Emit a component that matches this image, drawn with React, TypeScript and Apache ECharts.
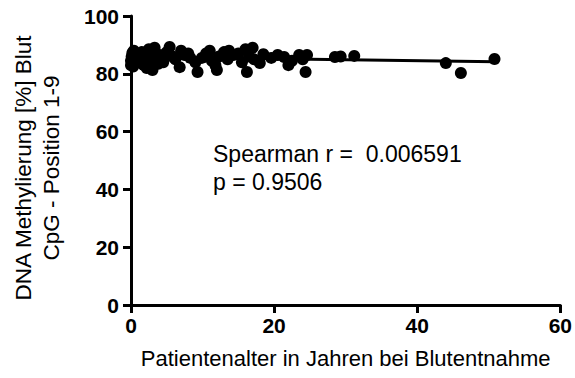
import React, { useEffect, useRef } from "react";
import * as echarts from "echarts";

const points: [number, number][] = [
  [0, 83], [0, 84.5], [0.1, 86], [0.2, 87.3], [0.3, 82.5], [0.5, 85.3], [0.4, 88],
  [0.8, 86.5], [1, 84], [1.2, 85.5],
  [1.5, 87.5], [1.8, 83], [2, 86], [2.2, 82], [2.5, 88.5], [2.7, 84.5], [3, 81.3], [3, 87], [3.3, 89], [3.5, 85], [3.8, 83.5], [4, 86.5],
  [4.5, 84], [5, 87.5], [5.4, 89.3], [5.8, 86], [6.2, 85], [6.8, 82.3], [7, 88], [7.5, 86.5], [8, 87], [8.3, 85.5],
  [9, 84], [9.3, 80.6], [9.9, 85.5], [10.5, 87], [11, 88], [11.3, 84.5], [11.8, 83], [12, 81.3], [12.3, 86],
  [13, 87.5], [13.5, 85], [13.7, 88], [14.3, 86.5], [15, 87], [15.5, 84], [16, 88.5], [16.2, 80.6], [16.5, 86], [17, 89], [17.2, 85],
  [18, 83.7], [18.5, 86.8], [19.6, 85.5], [20.5, 86.5], [21.4, 85.8], [22, 83], [22.5, 84.5], [23.5, 86.5], [24, 85], [24.4, 80.6], [24.6, 86.5],
  [28.5, 85.8], [29.3, 86], [31.2, 86.2], [44, 83.7], [46.1, 80.3], [50.8, 85.1],
];

const regressionLine: [number, number][] = [[0, 85.8], [51, 84.2]];

const xTicks = { min: 0, max: 60, interval: 20 };
const yTicks = { min: 0, max: 100, interval: 20 };

const xTitle = "Patientenalter in Jahren bei Blutentnahme";
const yTitleLines = ["DNA Methylierung [%] Blut", "CpG - Position 1-9"];
const annotationLines = ["Spearman r =  0.006591", "p = 0.9506"];

const FONT = '"Liberation Sans", Arial, Helvetica, sans-serif';

export default function App() {
  const ref = useRef<HTMLDivElement>(null);
  useEffect(() => {
    if (!ref.current) return;
    const chart = echarts.init(ref.current, undefined, { renderer: "svg" });
    const axisCommon = {
      axisLine: { show: true, lineStyle: { color: "#000", width: 3 } },
      axisTick: { show: true, inside: false, length: 8, lineStyle: { color: "#000", width: 3 } },
      splitLine: { show: false },
    };
    chart.setOption({
      animation: false,
      backgroundColor: "#fff",
      grid: { left: 131, right: 12, top: 16, bottom: 73, containLabel: false },
      xAxis: {
        type: "value",
        ...xTicks,
        ...axisCommon,
        axisLabel: { color: "#000", fontFamily: FONT, fontWeight: "bold", fontSize: 21, margin: 10 },
        name: xTitle,
        nameLocation: "middle",
        nameGap: 42,
        nameTextStyle: { color: "#000", fontFamily: FONT, fontSize: 22 },
      },
      yAxis: {
        type: "value",
        ...yTicks,
        ...axisCommon,
        axisLabel: { color: "#000", fontFamily: FONT, fontWeight: "bold", fontSize: 21, margin: 12 },
      },
      series: [
        {
          type: "line",
          data: regressionLine,
          showSymbol: false,
          symbol: "none",
          lineStyle: { color: "#000", width: 3 },
          z: 3,
        },
        {
          type: "scatter",
          data: points,
          symbol: "circle",
          symbolSize: 12,
          itemStyle: { color: "#000", opacity: 1 },
          z: 4,
        },
      ],
      graphic: [
        {
          type: "text",
          x: 37,
          y: 168,
          rotation: Math.PI / 2,
          style: {
            text: yTitleLines.join("\n"),
            font: `22.5px ${FONT}`,
            fill: "#000",
            align: "center",
            verticalAlign: "middle",
            textAlign: "center",
            textVerticalAlign: "middle",
            lineHeight: 28,
          },
        },
        {
          type: "text",
          x: 213,
          y: 140,
          style: {
            text: annotationLines.join("\n"),
            font: `23px ${FONT}`,
            fill: "#000",
            align: "left",
            verticalAlign: "top",
            textAlign: "left",
            textVerticalAlign: "top",
            lineHeight: 28,
          },
        },
      ],
    });
    return () => chart.dispose();
  }, []);
  return <div ref={ref} style={{ width: 575, height: 378, position: "absolute", left: 0, top: 0 }} />;
}
